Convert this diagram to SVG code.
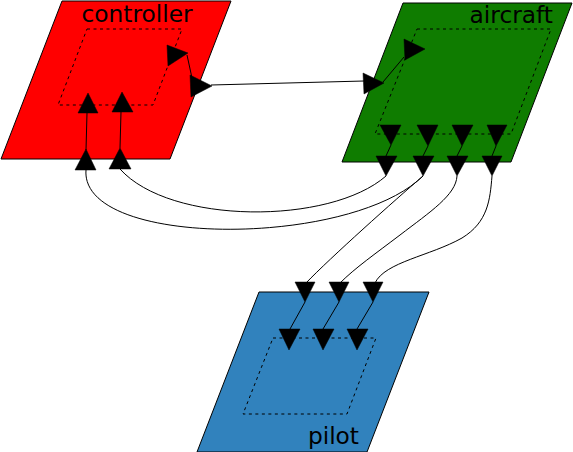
<svg xmlns="http://www.w3.org/2000/svg" width="573" height="452" viewBox="0 0 573 452">
<style>
.box{stroke:#000;stroke-width:1}
.inner{fill:none;stroke:#000;stroke-width:1;stroke-dasharray:3,3.5}
.lbl{font-family:"DejaVu Sans",sans-serif;font-size:23.3px;fill:#000}
.arr{fill:#000;stroke:#000;stroke-width:0.5}
.ln{fill:none;stroke:#000;stroke-width:1}
</style>
<rect width="573" height="452" fill="#fff"/>
<g id="controller">
<polygon class="box" fill="#ff0000" points="62,1 231,1 170,159 1,159"/>
<polygon class="inner" points="87,29 182,29 153,105 58,105"/>
<text class="lbl" x="137" y="22" text-anchor="middle">controller</text>
</g>
<g id="aircraft">
<polygon class="box" fill="#0f7c00" points="403,3 572,3 511,162 342,162"/>
<polygon class="inner" points="417,29 551,29 511,134 375,134"/>
<text class="lbl" x="553" y="23" text-anchor="end">aircraft</text>
</g>
<g id="pilot">
<polygon class="box" fill="#3182bd" points="259,292 429,292 367,452 197,452"/>
<polygon class="inner" points="273,338 376,338 347,414 243,414"/>
<text class="lbl" x="359" y="444" text-anchor="end">pilot</text>
</g>
<g id="connectors">
<!-- controller output -->
<path class="ln" d="M187,55 L192,78"/>
<polygon class="arr" points="167,45 168,66 188,53"/>
<polygon class="arr" points="190,75 191,97 212,86"/>
<path class="ln" d="M211,85 L364,81"/>
<polygon class="arr" points="363,73 364,94 384,83"/>
<path class="ln" d="M383,82 L404,57"/>
<polygon class="arr" points="404,39 405,60 425,49"/>
<!-- controller inputs -->
<path class="ln" d="M86,150 L87,113"/>
<path class="ln" d="M120,148 L121,112"/>
<polygon class="arr" points="78,113 98,113 88,93"/>
<polygon class="arr" points="112,112 133,112 122,92"/>
<polygon class="arr" points="75,170 96,170 86,149"/>
<polygon class="arr" points="109,169 131,169 120,148"/>
<!-- aircraft outputs -->
<path class="ln" d="M391,145 L386,156 M428,146 L423,156 M462,146 L457,156 M496,146 L492,156"/>
<polygon class="arr" points="380,125 401,125 391,145"/>
<polygon class="arr" points="417,125 438,125 428,146"/>
<polygon class="arr" points="452,125 473,125 462,146"/>
<polygon class="arr" points="487,125 507,125 496,146"/>
<polygon class="arr" points="376,156 397,156 386,176"/>
<polygon class="arr" points="413,156 434,156 423,176"/>
<polygon class="arr" points="447,156 468,156 457,176"/>
<polygon class="arr" points="482,156 502,156 492,176"/>
<!-- aircraft to controller -->
<path class="ln" d="M386,176 C330,225 170,225 120,169"/>
<path class="ln" d="M423,176 C350,248 80,248 86,170"/>
<!-- aircraft to pilot -->
<path class="ln" d="M423,176 C395,200 330,258 306,283"/>
<path class="ln" d="M457,176 C456,195 430,212 400,235 C375,254 355,268 340,283"/>
<path class="ln" d="M492,176 C490,200 488,222 462,238 C430,256 385,262 375,283"/>
<!-- pilot inputs -->
<path class="ln" d="M305,302 L290,329 M339,302 L323,329 M373,302 L357,329"/>
<polygon class="arr" points="295,282 315,282 305,302"/>
<polygon class="arr" points="329,282 349,282 339,302"/>
<polygon class="arr" points="363,282 383,282 373,302"/>
<polygon class="arr" points="279,329 300,329 289,350"/>
<polygon class="arr" points="313,329 334,329 323,350"/>
<polygon class="arr" points="347,329 368,329 357,350"/>
</g>
</svg>
